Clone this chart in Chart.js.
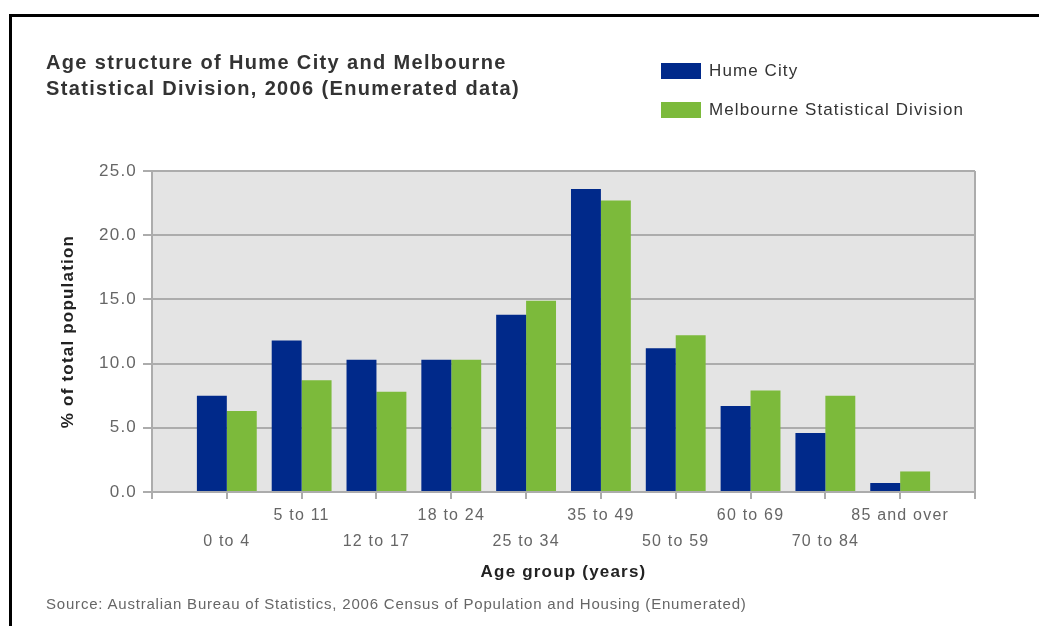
<!DOCTYPE html>
<html>
<head>
<meta charset="utf-8">
<title>Age structure of Hume City</title>
<script src="https://cdn.jsdelivr.net/npm/chart.js@4"></script>
<style>
    body {
        margin: 0;
        background: #fff;
        font-family: "Liberation Sans", Arial, sans-serif;
    }
    #wrap {
        position: relative;
        width: 1039px;
        height: 626px;
        overflow: hidden;
    }
    #frame {
        position: absolute;
        left: 9px;
        top: 14px;
        width: 1100px;
        height: 700px;
        border-top: 3px solid #000;
        border-left: 3px solid #000;
    }
    #graph {
        position: absolute;
        left: 0;
        top: 0;
    }
    #title {
        position: absolute;
        left: 46px;
        top: 49px;
        font-size: 20px;
        font-weight: bold;
        line-height: 26px;
        letter-spacing: 1.35px;
        color: #333;
    }
    #legend {
        position: absolute;
        left: 661px;
        top: 63px;
        font-size: 17px;
        letter-spacing: 1.1px;
        color: #333;
    }
    .legend-item {
        position: relative;
        height: 39px;
    }
    .legend-box {
        position: absolute;
        left: 0;
        top: 0;
        width: 40px;
        height: 16px;
    }
    .legend-text {
        position: absolute;
        left: 48px;
        top: -2px;
        line-height: 20px;
        white-space: nowrap;
    }
    #source {
        position: absolute;
        left: 46px;
        top: 595px;
        font-size: 15px;
        line-height: 18px;
        letter-spacing: 0.8px;
        color: #666;
    }
</style>
</head>
<body>
<div id="wrap">
    <div id="frame"></div>
    <canvas id="graph" width="1039" height="626"></canvas>
    <div id="title">Age structure of Hume City and Melbourne<br>Statistical Division, 2006 (Enumerated data)</div>
    <div id="legend"></div>
    <div id="source">Source: Australian Bureau of Statistics, 2006 Census of Population and Housing (Enumerated)</div>
</div>
<script>
var ageGroups = ['0 to 4', '5 to 11', '12 to 17', '18 to 24', '25 to 34', '35 to 49', '50 to 59', '60 to 69', '70 to 84', '85 and over'];
var humeCity = [7.5, 11.8, 10.3, 10.3, 13.8, 23.6, 11.2, 6.7, 4.6, 0.7];
var melbourneSD = [6.3, 8.7, 7.8, 10.3, 14.9, 22.7, 12.2, 7.9, 7.5, 1.6];
var yTicks = [0, 5, 10, 15, 20, 25];

var colors = [
    '#00298a',
    '#7cba3b'
]

var seriesNames = ['Hume City', 'Melbourne Statistical Division'];

// empty slot at each end so the axis runs one category past the first and last group
function padded(list, filler) {
    return [filler].concat(list, [filler]);
}

function getDatasets() {
    var series = [humeCity, melbourneSD];
    var sets = [];
    for (let i = 0; i < series.length; i++) {
        sets.push({
            label: seriesNames[i],
            data: padded(series[i], null),
            backgroundColor: colors[i],
            borderWidth: 0,
            categoryPercentage: 0.8,
            barPercentage: 1.0
        });
    }
    return sets;
}

function buildLegend(datasets) {
    var legend = document.getElementById("legend");
    datasets.forEach(set => {
        var item = document.createElement("div");
        item.className = "legend-item";
        item.innerHTML = '<div class="legend-box" style="background:' + set.backgroundColor + '"></div>' +
            '<div class="legend-text">' + set.label + '</div>';
        legend.appendChild(item);
    });
}

// the original renders its text a little wider than Liberation Sans
function widenText(chart) {
    chart.ctx.letterSpacing = '1.2px';
}

function showGraph() {
    var labels = padded(ageGroups, '');
    var datasets = getDatasets();
    buildLegend(datasets);

    const config = {
        type: 'bar',
        data: {
            labels: labels,
            datasets: datasets
        },
        options: {
            responsive: false,
            animation: false,
            devicePixelRatio: 1,
            layout: {
                padding: { left: 58, right: 64, top: 171, bottom: 43 }
            },
            plugins: {
                legend: { display: false },
                tooltip: { enabled: false }
            },
            scales: {
                x: {
                    offset: false,
                    afterFit: (scale) => { scale.height = 91; },
                    grid: {
                        offset: false,
                        drawOnChartArea: true,
                        color: (ctx) => (ctx.index === 0 || ctx.index === labels.length - 1) ? '#acacac' : 'rgba(0,0,0,0)',
                        tickColor: '#acacac',
                        tickLength: 7,
                        lineWidth: 2
                    },
                    border: { display: true, color: '#acacac', width: 2 },
                    ticks: {
                        autoSkip: false,
                        maxRotation: 0,
                        padding: 3,
                        color: '#666',
                        font: { family: '"Liberation Sans", Arial, sans-serif', size: 16, lineHeight: 1.65 },
                        callback: function (value, index) {
                            var label = this.getLabelForValue(value);
                            if (!label) return '';
                            // labels alternate between a lower and an upper row
                            return (index - 1) % 2 === 0 ? ['', label] : [label, ''];
                        }
                    },
                    title: {
                        display: true,
                        text: 'Age group (years)',
                        color: '#222',
                        padding: 0,
                        font: { family: '"Liberation Sans", Arial, sans-serif', size: 17, weight: 'bold' }
                    }
                },
                y: {
                    min: yTicks[0],
                    max: yTicks[yTicks.length - 1],
                    afterFit: (scale) => { scale.width = 94; },
                    afterBuildTicks: (scale) => {
                        scale.ticks = yTicks.map(v => ({ value: v }));
                    },
                    grid: {
                        color: '#acacac',
                        tickColor: '#acacac',
                        tickLength: 9,
                        lineWidth: 2
                    },
                    border: { display: true, color: '#acacac', width: 2 },
                    ticks: {
                        padding: 6,
                        color: '#666',
                        font: { family: '"Liberation Sans", Arial, sans-serif', size: 17 },
                        callback: (value) => Number(value).toFixed(1)
                    },
                    title: {
                        display: true,
                        text: '% of total population',
                        color: '#222',
                        padding: 0,
                        font: { family: '"Liberation Sans", Arial, sans-serif', size: 17, weight: 'bold' }
                    }
                }
            }
        },
        plugins: [{
            id: 'plotBackground',
            beforeUpdate: widenText,
            beforeDraw: (chart) => {
                widenText(chart);
                const area = chart.chartArea;
                const ctx = chart.ctx;
                ctx.save();
                ctx.fillStyle = '#e4e4e4';
                ctx.fillRect(area.left, area.top, area.right - area.left, area.bottom - area.top);
                ctx.restore();
            }
        }]
    };

    new Chart(
        document.getElementById("graph"),
        config
    )
}

showGraph();
</script>
</body>
</html>
